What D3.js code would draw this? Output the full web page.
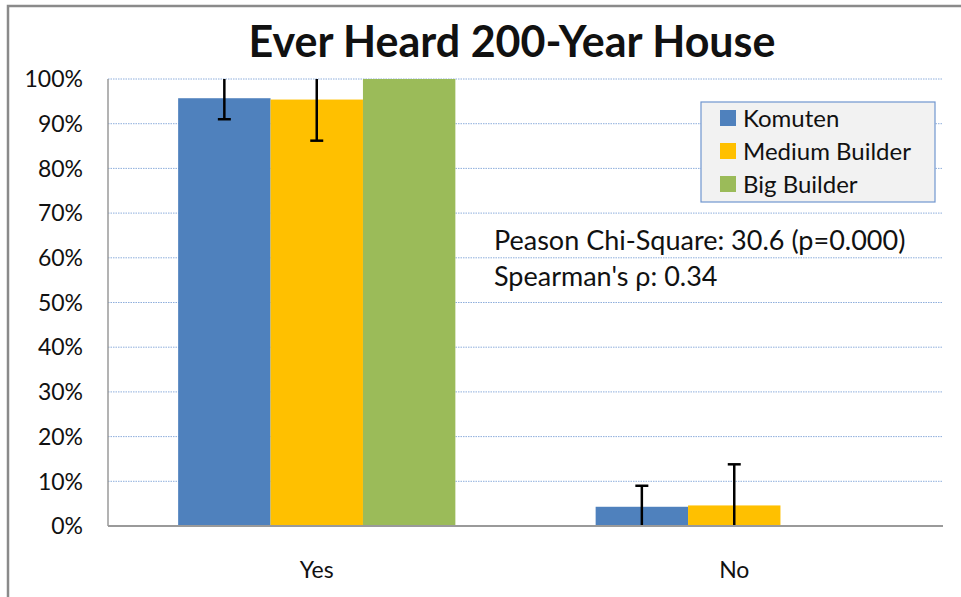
<!DOCTYPE html>
<html>
<head>
<meta charset="utf-8">
<script src="https://cdn.jsdelivr.net/npm/d3@7"></script>
<style>
  body { margin: 0; background: #fff; }
  svg text { font-family: Lato, "Open Sans", sans-serif; fill: #111; }
</style>
</head>
<body>
<div id="chart"></div>
<script>
var categories = ["Yes", "No"];
var seriesNames = ["Komuten", "Medium Builder", "Big Builder"];
var komuten = [95.7, 4.3];
var medium = [95.4, 4.6];
var big = [100, 0];
var komutenErr = [4.7, 4.7];
var mediumErr = [9.2, 9.2];
var bigErr = [0, 0];
var yTicks = [0, 10, 20, 30, 40, 50, 60, 70, 80, 90, 100];
var colors = ["#4f81bd", "#ffc000", "#9bbb59"];

var values = [komuten, medium, big];
var errors = [komutenErr, mediumErr, bigErr];

var width = 961, height = 597;
var plot = {left: 108, right: 943, top: 79, bottom: 526};

var svg = d3.select("#chart").append("svg")
    .attr("width", width)
    .attr("height", height);

// outer chart border (runs off the right/bottom edge)
svg.append("rect")
    .attr("x", 8).attr("y", 6)
    .attr("width", 1000).attr("height", 700)
    .attr("fill", "none")
    .attr("stroke", "#8a8a8a")
    .attr("stroke-width", 2.5);

var y = d3.scaleLinear().domain([0, 100]).range([plot.bottom, plot.top]);

var x0 = d3.scaleBand()
    .domain(categories)
    .range([plot.left, plot.right])
    .paddingInner(0.336)
    .paddingOuter(0.168);

var x1 = d3.scaleBand()
    .domain(seriesNames)
    .range([0, x0.bandwidth()]);

// gridlines
svg.append("g")
  .selectAll("line")
  .data(yTicks.filter(function(d){ return d > 0; }))
  .enter().append("line")
    .attr("x1", plot.left).attr("x2", plot.right)
    .attr("y1", function(d){ return y(d); })
    .attr("y2", function(d){ return y(d); })
    .attr("stroke", "#8eaedc")
    .attr("stroke-width", 1)
    .attr("stroke-dasharray", "1.5,1");

// bars
var rows = [];
categories.forEach(function(c, i){
  seriesNames.forEach(function(s, j){
    rows.push({cat: c, series: s, value: values[j][i], err: errors[j][i], color: colors[j]});
  });
});

svg.append("g")
  .selectAll("rect")
  .data(rows)
  .enter().append("rect")
    .attr("x", function(d){ return x0(d.cat) + x1(d.series); })
    .attr("y", function(d){ return y(d.value); })
    .attr("width", x1.bandwidth())
    .attr("height", function(d){ return y(0) - y(d.value); })
    .attr("fill", function(d){ return d.color; });

// error bars, clipped to plot area like Excel
var eb = svg.append("g")
  .selectAll("g")
  .data(rows.filter(function(d){ return d.err > 0; }))
  .enter().append("g");

function cx(d){ return x0(d.cat) + x1(d.series) + x1.bandwidth() / 2; }

eb.append("line")
    .attr("x1", cx).attr("x2", cx)
    .attr("y1", function(d){ return y(Math.min(100, d.value + d.err)); })
    .attr("y2", function(d){ return y(Math.max(0, d.value - d.err)); })
    .attr("stroke", "#000")
    .attr("stroke-width", 2.5);

eb.each(function(d){
  var g = d3.select(this);
  [d.value + d.err, d.value - d.err].forEach(function(v){
    if (v <= 100 && v >= 0) {
      g.append("line")
        .attr("x1", cx(d) - 6.5).attr("x2", cx(d) + 6.5)
        .attr("y1", y(v)).attr("y2", y(v))
        .attr("stroke", "#000")
        .attr("stroke-width", 2.5);
    }
  });
});

// axes lines
svg.append("line")
    .attr("x1", plot.left).attr("x2", plot.left)
    .attr("y1", plot.top).attr("y2", plot.bottom)
    .attr("stroke", "#9a9a9a").attr("stroke-width", 1.5);
svg.append("line")
    .attr("x1", plot.left).attr("x2", plot.right)
    .attr("y1", plot.bottom).attr("y2", plot.bottom)
    .attr("stroke", "#9a9a9a").attr("stroke-width", 2);

// y labels
svg.append("g")
  .selectAll("text")
  .data(yTicks)
  .enter().append("text")
    .attr("x", 83)
    .attr("y", function(d){ return y(d); })
    .attr("dy", "0.36em")
    .attr("text-anchor", "end")
    .style("font-size", "23px")
    .text(function(d){ return d + "%"; });

// x labels
svg.append("g")
  .selectAll("text")
  .data(categories)
  .enter().append("text")
    .attr("x", function(d){ return x0(d) + x0.bandwidth() / 2; })
    .attr("y", 578)
    .attr("text-anchor", "middle")
    .style("font-size", "23px")
    .text(function(d){ return d; });

// title
svg.append("text")
    .attr("x", 512).attr("y", 57)
    .attr("text-anchor", "middle")
    .style("font-size", "43px")
    .style("font-weight", "bold")
    .text("Ever Heard 200-Year House");

// legend
var legend = svg.append("g").attr("transform", "translate(701,102)");
legend.append("rect")
    .attr("width", 234).attr("height", 100)
    .attr("fill", "#f2f2f2")
    .attr("stroke", "#7096cf")
    .attr("stroke-width", 1.2);
var li = legend.selectAll("g.item")
  .data(seriesNames)
  .enter().append("g")
    .attr("class", "item")
    .attr("transform", function(d, i){ return "translate(19," + (16 + i * 33) + ")"; });
li.append("rect")
    .attr("y", -8).attr("width", 16).attr("height", 16)
    .attr("fill", function(d, i){ return colors[i]; });
li.append("text")
    .attr("x", 23).attr("dy", "0.36em")
    .style("font-size", "24px")
    .text(function(d){ return d; });

// stats note
svg.append("text")
    .attr("x", 494).attr("y", 250)
    .style("font-size", "27px")
    .text("Peason Chi-Square: 30.6 (p=0.000)");
svg.append("text")
    .attr("x", 494).attr("y", 286)
    .style("font-size", "27px")
    .text("Spearman's ρ: 0.34");
</script>
</body>
</html>
